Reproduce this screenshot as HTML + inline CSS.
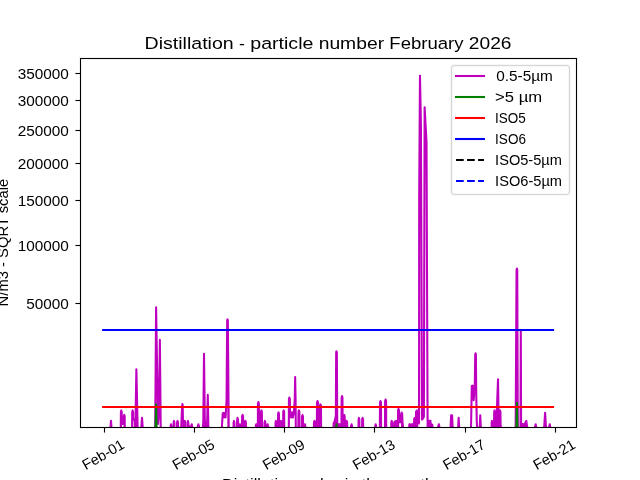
<!DOCTYPE html>
<html lang="en">
<head>
<meta charset="utf-8">
<title>Distillation - particle number February 2026</title>
<style>
  html, body { margin: 0; padding: 0; background: #ffffff; }
  body { width: 640px; height: 480px; overflow: hidden; position: relative; }
  svg { position: absolute; left: 0; top: 0; display: block; will-change: transform; }
  text { font-family: "Liberation Sans", sans-serif; fill: #000000; }
  .t10 { font-size: 14.5px; }
  .t12 { font-size: 17.4px; }
  .ln { fill: none; stroke-width: 2.083; stroke-linejoin: round; stroke-linecap: butt; }
</style>
</head>
<body>
<svg width="640" height="480" viewBox="0 0 640 480">
  <defs>
    <clipPath id="axclip"><rect x="80" y="57.6" width="496" height="369.6"/></clipPath>
  </defs>
  <rect x="0" y="0" width="640" height="480" fill="#ffffff"/>

  <!-- data series -->
  <g clip-path="url(#axclip)">
    <path fill="#bf00bf" stroke="none" d="M109.87 436.00 L109.87 436.00 L111.00 420.90 L112.13 436.00 L112.13 436.00Z M120.74 436.00 L120.74 436.00 L120.90 411.90 L121.30 410.40 L121.70 411.90 L121.85 424.00 L121.85 436.00Z M123.65 436.00 L123.65 424.00 L123.80 416.40 L124.25 414.90 L124.70 416.40 L124.85 436.00 L124.85 436.00Z M132.06 436.00 L132.06 436.00 L132.21 411.90 L132.61 410.40 L133.02 411.90 L133.17 419.50 L133.17 436.00Z M135.24 436.00 L135.24 436.00 L136.37 369.20 L137.83 436.00 L137.83 436.00Z M140.65 436.00 L140.65 436.00 L142.01 417.90 L143.32 436.00 L143.32 436.00Z M155.16 436.00 L155.16 436.00 L156.10 307.40 L156.10 436.00Z M170.53 436.00 L170.53 436.00 L170.68 425.80 L171.04 424.30 L171.40 425.80 L171.55 436.00 L171.55 436.00Z M173.49 436.00 L173.49 436.00 L173.64 422.40 L174.00 420.90 L174.36 422.40 L174.51 436.00 L174.51 436.00Z M176.88 436.00 L176.88 436.00 L177.03 422.40 L177.52 420.90 L178.02 422.40 L178.17 436.00 L178.17 436.00Z M180.81 436.00 L180.81 436.00 L182.17 405.60 L182.41 404.10 L182.69 405.60 L183.21 436.00 L183.21 436.00Z M184.39 436.00 L184.39 436.00 L184.54 422.40 L184.85 420.90 L185.16 422.40 L185.31 436.00 L185.31 436.00Z M187.45 436.00 L187.45 436.00 L187.60 422.40 L187.95 420.90 L188.31 422.40 L188.46 425.50 L189.64 427.00 L191.16 427.50 L191.31 425.80 L191.71 424.30 L192.12 425.80 L192.27 436.00 L192.27 436.00Z M197.69 436.00 L197.69 436.00 L197.84 425.80 L198.38 424.30 L198.93 425.80 L199.08 436.00 L199.08 436.00Z M202.70 436.00 L202.70 436.00 L203.36 418.00 L204.02 353.70 L204.77 418.00 L205.52 432.00 L206.65 432.00 L207.21 420.00 L207.78 394.90 L208.53 436.00 L208.53 436.00Z M227.51 436.00 L227.51 319.40 L227.85 320.60 L228.79 436.00 L228.79 436.00Z M233.49 436.00 L233.49 436.00 L233.64 422.40 L233.99 420.90 L234.35 422.40 L234.50 428.00 L235.44 436.00 L235.44 436.00Z M236.07 436.00 L236.07 436.00 L237.01 428.00 L237.16 419.40 L237.56 417.90 L237.97 419.40 L238.12 424.50 L239.06 436.00 L239.06 436.00Z M239.07 436.00 L239.07 436.00 L240.01 424.30 L240.95 436.00 L240.95 436.00Z M241.05 436.00 L241.05 436.00 L241.99 424.30 L242.14 416.40 L242.59 414.90 L243.04 416.40 L243.19 421.50 L244.81 421.50 L244.96 422.40 L245.41 420.90 L245.86 422.40 L246.01 436.00 L246.01 436.00Z M255.66 436.00 L255.66 436.00 L255.81 425.80 L256.17 424.30 L256.52 425.80 L256.67 436.00 L256.67 436.00Z M257.82 436.00 L257.82 436.00 L257.97 403.60 L258.42 402.10 L258.87 403.60 L259.02 436.00 L259.02 436.00Z M260.83 436.00 L260.83 436.00 L260.98 411.90 L261.43 410.40 L261.88 411.90 L262.03 436.00 L262.03 436.00Z M264.35 436.00 L264.35 436.00 L264.50 422.40 L264.91 420.90 L265.31 422.40 L265.46 436.00 L265.46 436.00Z M267.12 436.00 L267.12 436.00 L267.27 425.80 L267.63 424.30 L267.99 425.80 L268.14 426.00 L269.13 429.00 L270.07 436.00 L270.07 436.00Z M275.39 436.00 L275.39 436.00 L275.54 422.40 L275.90 420.90 L276.26 422.40 L276.41 436.00 L276.41 436.00Z M277.93 436.00 L277.93 436.00 L278.08 413.90 L278.53 412.40 L278.98 413.90 L279.13 436.00 L279.13 436.00Z M280.56 436.00 L280.56 436.00 L280.71 422.40 L281.07 420.90 L281.42 422.40 L281.57 436.00 L281.57 436.00Z M283.10 436.00 L283.10 436.00 L283.25 411.90 L283.70 410.40 L284.15 411.90 L284.30 436.00 L284.30 436.00Z M288.78 436.00 L288.78 436.00 L288.93 399.10 L289.38 397.60 L289.38 436.00Z M295.16 436.00 L295.16 377.00 L295.58 400.00 L295.86 436.00 L295.86 436.00Z M298.32 436.00 L298.32 436.00 L298.47 411.90 L298.92 410.40 L299.37 411.90 L299.52 436.00 L299.52 436.00Z M301.89 436.00 L301.89 436.00 L302.04 416.60 L302.49 415.10 L302.94 416.60 L303.09 425.50 L304.42 425.50 L304.57 425.80 L304.93 424.30 L305.29 425.80 L305.44 436.00 L305.44 436.00Z M313.82 436.00 L313.82 436.00 L313.97 422.40 L314.51 420.90 L315.06 422.40 L315.21 422.00 L316.87 422.00 L317.02 402.50 L317.52 401.00 L318.02 402.50 L318.17 406.00 L319.93 406.00 L320.08 405.90 L320.53 404.40 L320.98 405.90 L321.13 436.00 L321.13 436.00Z M332.37 436.00 L332.37 436.00 L333.31 432.00 L333.68 423.00 L334.62 421.50 L335.84 416.00 L336.16 352.40 L336.50 351.20 L336.84 352.40 L337.25 424.50 L338.57 424.40 L339.88 424.30 L341.11 424.30 L341.49 424.30 L341.64 397.60 L342.04 396.10 L342.45 397.60 L342.60 416.50 L343.79 416.50 L343.94 416.60 L344.30 415.10 L344.66 416.60 L344.81 422.00 L346.05 422.00 L346.20 422.40 L346.65 420.90 L347.10 422.40 L347.25 436.00 L347.25 436.00Z M350.93 436.00 L350.93 436.00 L351.08 425.80 L351.53 424.30 L351.99 425.80 L352.14 436.00 L352.14 436.00Z M358.45 436.00 L358.45 436.00 L358.60 419.40 L358.96 417.90 L359.31 419.40 L359.46 436.00 L359.46 436.00Z M362.02 436.00 L362.02 436.00 L362.17 419.40 L362.62 417.90 L363.07 419.40 L363.22 436.00 L363.22 436.00Z M375.17 436.00 L375.17 436.00 L375.32 425.80 L375.68 424.30 L376.04 425.80 L376.19 436.00 L376.19 436.00Z M379.83 436.00 L379.83 436.00 L379.98 402.50 L380.47 401.00 L380.97 402.50 L381.12 436.00 L381.12 436.00Z M384.95 436.00 L384.95 436.00 L385.10 401.00 L385.59 399.50 L386.09 401.00 L386.24 436.00 L386.24 436.00Z M391.15 436.00 L391.15 436.00 L391.30 422.40 L391.70 420.90 L392.11 422.40 L392.26 436.00 L392.26 436.00Z M394.10 436.00 L394.10 436.00 L394.29 422.50 L395.32 421.20 L396.63 420.90 L397.95 420.90 L398.09 410.40 L398.56 408.90 L399.03 410.40 L399.17 420.00 L399.17 436.00Z M401.05 436.00 L401.05 421.00 L401.24 414.00 L401.71 412.60 L402.18 414.00 L402.41 421.00 L403.96 436.00 L403.96 436.00Z M409.13 436.00 L409.13 436.00 L409.32 424.30 L410.73 424.50 L412.14 424.20 L413.55 424.40 L414.06 424.30 L414.20 418.50 L415.05 417.90 L415.90 418.50 L416.08 411.50 L417.12 410.40 L418.25 411.00 L418.25 436.00Z M428.77 436.00 L428.77 422.00 L428.96 420.90 L430.46 420.90 L430.65 424.30 L431.59 424.40 L432.34 424.80 L432.81 436.00 L432.81 436.00Z M437.04 436.00 L437.04 436.00 L437.98 427.00 L438.92 424.20 L439.86 430.00 L440.80 436.00 L440.80 436.00Z M450.19 436.00 L450.19 436.00 L451.13 415.30 L452.07 415.20 L453.01 436.00 L453.01 436.00Z M457.71 436.00 L457.71 436.00 L458.65 417.90 L459.59 436.00 L459.59 436.00Z M479.32 436.00 L479.32 436.00 L480.26 415.20 L481.20 436.00 L481.20 436.00Z M491.54 436.00 L491.54 436.00 L491.69 422.40 L492.00 420.90 L492.31 422.40 L492.46 436.00 L492.46 436.00Z M494.03 436.00 L494.03 436.00 L494.18 411.90 L494.54 410.40 L494.90 411.90 L495.05 436.00 L495.05 436.00Z M496.56 436.00 L496.56 436.00 L496.79 412.00 L498.02 379.30 L498.49 412.00 L498.67 436.00 L498.67 436.00Z M499.58 436.00 L499.58 436.00 L499.73 411.90 L500.08 410.40 L500.44 411.90 L500.59 424.00 L501.59 436.00 L501.59 436.00Z M515.62 436.00 L515.62 436.00 L516.56 269.70 L516.90 268.50 L516.90 436.00Z M521.97 436.00 L521.97 428.00 L522.54 424.00 L523.48 425.00 L524.42 424.00 L525.36 423.00 L526.30 420.90 L527.24 428.00 L528.18 436.00 L528.18 436.00Z M533.81 436.00 L533.81 436.00 L534.75 428.00 L535.69 424.20 L536.63 430.00 L537.57 436.00 L537.57 436.00Z M543.21 436.00 L543.21 436.00 L544.15 428.00 L545.09 412.70 L546.03 428.00 L546.97 436.00 L546.97 436.00Z M547.91 436.00 L547.91 436.00 L548.85 428.00 L549.79 424.20 L550.73 430.00 L551.67 436.00 L551.67 436.00Z"/>
    <path class="ln" stroke="#bf00bf" d="M102.55 436.00 L108.93 436.00 L109.87 436.00 L111.00 420.90 L112.13 436.00 L113.07 436.00 L119.81 436.00 L120.74 436.00 L120.90 411.90 L121.30 410.40 L121.70 411.90 L121.85 424.00 L123.65 424.00 L123.80 416.40 L124.25 414.90 L124.70 416.40 L124.85 436.00 L125.79 436.00 L131.12 436.00 L132.06 436.00 L132.21 411.90 L132.61 410.40 L133.02 411.90 L133.17 419.50 L134.02 419.80 L134.77 419.30 L135.24 436.00 L136.37 369.20 L137.83 436.00 L138.77 436.00 L139.71 436.00 L140.65 436.00 L142.01 417.90 L143.32 436.00 L144.26 436.00 L155.16 436.00 L156.10 307.40 L157.98 424.00 L158.92 414.00 L159.86 339.90 L160.80 436.00 L169.59 436.00 L170.53 436.00 L170.68 425.80 L171.04 424.30 L171.40 425.80 L171.55 436.00 L172.49 436.00 L172.55 436.00 L173.49 436.00 L173.64 422.40 L174.00 420.90 L174.36 422.40 L174.51 436.00 L175.45 436.00 L175.94 436.00 L176.88 436.00 L177.03 422.40 L177.52 420.90 L178.02 422.40 L178.17 436.00 L179.11 436.00 L179.87 436.00 L180.81 436.00 L182.17 405.60 L182.41 404.10 L182.69 405.60 L183.21 436.00 L184.39 436.00 L184.54 422.40 L184.85 420.90 L185.16 422.40 L185.31 436.00 L186.25 436.00 L186.51 436.00 L187.45 436.00 L187.60 422.40 L187.95 420.90 L188.31 422.40 L188.46 425.50 L189.64 427.00 L191.16 427.50 L191.31 425.80 L191.71 424.30 L192.12 425.80 L192.27 436.00 L193.21 436.00 L196.75 436.00 L197.69 436.00 L197.84 425.80 L198.38 424.30 L198.93 425.80 L199.08 436.00 L200.02 436.00 L201.76 436.00 L202.70 436.00 L203.36 418.00 L204.02 353.70 L204.77 418.00 L205.52 432.00 L206.65 432.00 L207.21 420.00 L207.78 394.90 L208.53 436.00 L209.47 436.00 L220.37 436.00 L221.31 436.00 L222.72 413.50 L223.19 412.80 L223.66 417.30 L224.13 413.00 L224.60 417.30 L225.07 413.00 L225.54 417.50 L225.91 412.00 L226.57 400.00 L227.17 320.60 L227.51 319.40 L227.85 320.60 L228.79 436.00 L232.55 436.00 L233.49 436.00 L233.64 422.40 L233.99 420.90 L234.35 422.40 L234.50 428.00 L235.44 436.00 L236.07 436.00 L237.01 428.00 L237.16 419.40 L237.56 417.90 L237.97 419.40 L238.12 424.50 L239.06 436.00 L239.07 436.00 L240.01 424.30 L240.95 436.00 L241.05 436.00 L241.99 424.30 L242.14 416.40 L242.59 414.90 L243.04 416.40 L243.19 421.50 L244.81 421.50 L244.96 422.40 L245.41 420.90 L245.86 422.40 L246.01 436.00 L246.95 436.00 L254.72 436.00 L255.66 436.00 L255.81 425.80 L256.17 424.30 L256.52 425.80 L256.67 436.00 L257.82 436.00 L257.97 403.60 L258.42 402.10 L258.87 403.60 L259.02 436.00 L260.83 436.00 L260.98 411.90 L261.43 410.40 L261.88 411.90 L262.03 436.00 L262.97 436.00 L263.41 436.00 L264.35 436.00 L264.50 422.40 L264.91 420.90 L265.31 422.40 L265.46 436.00 L267.12 436.00 L267.27 425.80 L267.63 424.30 L267.99 425.80 L268.14 426.00 L269.13 429.00 L270.07 436.00 L274.45 436.00 L275.39 436.00 L275.54 422.40 L275.90 420.90 L276.26 422.40 L276.41 436.00 L277.93 436.00 L278.08 413.90 L278.53 412.40 L278.98 413.90 L279.13 436.00 L280.56 436.00 L280.71 422.40 L281.07 420.90 L281.42 422.40 L281.57 436.00 L283.10 436.00 L283.25 411.90 L283.70 410.40 L284.15 411.90 L284.30 436.00 L285.24 436.00 L287.84 436.00 L288.78 436.00 L288.93 399.10 L289.38 397.60 L289.83 399.10 L289.98 413.00 L291.03 417.50 L291.96 412.30 L292.90 417.50 L293.84 412.50 L294.74 400.00 L295.16 377.00 L295.58 400.00 L295.86 436.00 L296.80 436.00 L297.38 436.00 L298.32 436.00 L298.47 411.90 L298.92 410.40 L299.37 411.90 L299.52 436.00 L300.46 436.00 L300.95 436.00 L301.89 436.00 L302.04 416.60 L302.49 415.10 L302.94 416.60 L303.09 425.50 L304.42 425.50 L304.57 425.80 L304.93 424.30 L305.29 425.80 L305.44 436.00 L306.38 436.00 L312.88 436.00 L313.82 436.00 L313.97 422.40 L314.51 420.90 L315.06 422.40 L315.21 422.00 L316.87 422.00 L317.02 402.50 L317.52 401.00 L318.02 402.50 L318.17 406.00 L319.93 406.00 L320.08 405.90 L320.53 404.40 L320.98 405.90 L321.13 436.00 L322.07 436.00 L332.37 436.00 L333.31 432.00 L333.68 423.00 L334.62 421.50 L335.84 416.00 L336.16 352.40 L336.50 351.20 L336.84 352.40 L337.25 424.50 L338.57 424.40 L339.88 424.30 L341.11 424.30 L341.49 424.30 L341.64 397.60 L342.04 396.10 L342.45 397.60 L342.60 416.50 L343.79 416.50 L343.94 416.60 L344.30 415.10 L344.66 416.60 L344.81 422.00 L346.05 422.00 L346.20 422.40 L346.65 420.90 L347.10 422.40 L347.25 436.00 L348.19 436.00 L349.99 436.00 L350.93 436.00 L351.08 425.80 L351.53 424.30 L351.99 425.80 L352.14 436.00 L353.08 436.00 L357.51 436.00 L358.45 436.00 L358.60 419.40 L358.96 417.90 L359.31 419.40 L359.46 436.00 L360.40 436.00 L360.55 436.00 L361.49 436.00 L362.02 436.00 L362.17 419.40 L362.62 417.90 L363.07 419.40 L363.22 436.00 L364.16 436.00 L374.23 436.00 L375.17 436.00 L375.32 425.80 L375.68 424.30 L376.04 425.80 L376.19 436.00 L377.13 436.00 L378.89 436.00 L379.83 436.00 L379.98 402.50 L380.47 401.00 L380.97 402.50 L381.12 436.00 L382.06 436.00 L384.01 436.00 L384.95 436.00 L385.10 401.00 L385.59 399.50 L386.09 401.00 L386.24 436.00 L387.18 436.00 L390.21 436.00 L391.15 436.00 L391.30 422.40 L391.70 420.90 L392.11 422.40 L392.26 436.00 L394.10 436.00 L394.29 422.50 L395.32 421.20 L396.63 420.90 L397.95 420.90 L398.09 410.40 L398.56 408.90 L399.03 410.40 L399.17 420.00 L400.02 422.50 L401.05 421.00 L401.24 414.00 L401.71 412.60 L402.18 414.00 L402.41 421.00 L403.96 436.00 L404.90 436.00 L408.19 436.00 L409.13 436.00 L409.32 424.30 L410.73 424.50 L412.14 424.20 L413.55 424.40 L414.06 424.30 L414.20 418.50 L415.05 417.90 L415.90 418.50 L416.08 411.50 L417.12 410.40 L418.25 411.00 L419.04 423.40 L419.18 200.00 L419.98 75.80 L420.92 125.00 L422.00 419.60 L422.94 418.50 L423.88 416.80 L424.63 107.30 L425.57 125.00 L426.51 142.00 L427.64 434.00 L428.77 422.00 L428.96 420.90 L430.46 420.90 L430.65 424.30 L431.59 424.40 L432.34 424.80 L432.81 436.00 L433.75 436.00 L437.04 436.00 L437.98 427.00 L438.92 424.20 L439.86 430.00 L440.80 436.00 L450.19 436.00 L451.13 415.30 L452.07 415.20 L453.01 436.00 L457.71 436.00 L458.65 417.90 L459.59 436.00 L470.86 436.00 L471.80 386.00 L472.74 385.60 L473.68 400.20 L474.81 386.00 L475.22 354.50 L475.56 353.30 L475.90 354.50 L476.22 392.00 L476.78 422.00 L477.72 436.00 L479.32 436.00 L480.26 415.20 L481.20 436.00 L490.60 436.00 L491.54 436.00 L491.69 422.40 L492.00 420.90 L492.31 422.40 L492.46 436.00 L494.03 436.00 L494.18 411.90 L494.54 410.40 L494.90 411.90 L495.05 436.00 L496.56 436.00 L496.79 412.00 L498.02 379.30 L498.49 412.00 L498.67 436.00 L499.58 436.00 L499.73 411.90 L500.08 410.40 L500.44 411.90 L500.59 424.00 L501.59 436.00 L502.53 436.00 L515.62 436.00 L516.56 269.70 L516.90 268.50 L517.24 269.70 L517.84 436.00 L518.78 436.00 L519.53 436.00 L520.47 436.00 L520.80 330.00 L521.13 436.00 L521.97 428.00 L522.54 424.00 L523.48 425.00 L524.42 424.00 L525.36 423.00 L526.30 420.90 L527.24 428.00 L528.18 436.00 L533.81 436.00 L534.75 428.00 L535.69 424.20 L536.63 430.00 L537.57 436.00 L543.21 436.00 L544.15 428.00 L545.09 412.70 L546.03 428.00 L546.97 436.00 L547.91 436.00 L548.85 428.00 L549.79 424.20 L550.73 430.00 L551.67 436.00 L553.54 436.00"/>
    <path class="ln" stroke="#008000" d="M102.55 446.00 L155.16 446.00 L156.10 404.30 L157.04 446.00 L335.56 446.00 L336.50 424.40 L337.44 446.00 L515.96 446.00 L516.90 402.90 L517.84 446.00 L553.54 446.00"/>
    <path class="ln" stroke="#ff0000" d="M102.1 407 L554.1 407"/>
    <path class="ln" stroke="#0000ff" d="M102.1 330 L554.1 330"/>
  </g>

  <!-- axes frame -->
  <rect x="80.5" y="58.5" width="496" height="369" fill="none" stroke="#000000" stroke-opacity="0.055" stroke-width="3" shape-rendering="crispEdges"/>
  <rect x="80.5" y="58.5" width="496" height="369" fill="none" stroke="#000000" stroke-width="1" shape-rendering="crispEdges"/>

  <!-- ticks -->
  <g fill="#000000">
    <rect x="75.5" y="73" width="4.5" height="1"/><rect x="75" y="72" width="5" height="3" fill-opacity="0.055"/>
    <rect x="75.5" y="100" width="4.5" height="1"/><rect x="75" y="99" width="5" height="3" fill-opacity="0.055"/>
    <rect x="75.5" y="130" width="4.5" height="1"/><rect x="75" y="129" width="5" height="3" fill-opacity="0.055"/>
    <rect x="75.5" y="163" width="4.5" height="1"/><rect x="75" y="162" width="5" height="3" fill-opacity="0.055"/>
    <rect x="75.5" y="200" width="4.5" height="1"/><rect x="75" y="199" width="5" height="3" fill-opacity="0.055"/>
    <rect x="75.5" y="245" width="4.5" height="1"/><rect x="75" y="244" width="5" height="3" fill-opacity="0.055"/>
    <rect x="75.5" y="303" width="4.5" height="1"/><rect x="75" y="302" width="5" height="3" fill-opacity="0.055"/>
    <rect x="104" y="428" width="1" height="4.5"/><rect x="103" y="428" width="3" height="5" fill-opacity="0.055"/>
    <rect x="194" y="428" width="1" height="4.5"/><rect x="193" y="428" width="3" height="5" fill-opacity="0.055"/>
    <rect x="284" y="428" width="1" height="4.5"/><rect x="283" y="428" width="3" height="5" fill-opacity="0.055"/>
    <rect x="374" y="428" width="1" height="4.5"/><rect x="373" y="428" width="3" height="5" fill-opacity="0.055"/>
    <rect x="465" y="428" width="1" height="4.5"/><rect x="464" y="428" width="3" height="5" fill-opacity="0.055"/>
    <rect x="555" y="428" width="1" height="4.5"/><rect x="554" y="428" width="3" height="5" fill-opacity="0.055"/>
  </g>

  <!-- y tick labels -->
  <g class="t10" text-anchor="end">
    <text x="68.9" y="79" textLength="51.2" lengthAdjust="spacingAndGlyphs">350000</text>
    <text x="68.9" y="106" textLength="51.2" lengthAdjust="spacingAndGlyphs">300000</text>
    <text x="68.9" y="136" textLength="51.2" lengthAdjust="spacingAndGlyphs">250000</text>
    <text x="68.9" y="169" textLength="51.2" lengthAdjust="spacingAndGlyphs">200000</text>
    <text x="68.9" y="206" textLength="51.2" lengthAdjust="spacingAndGlyphs">150000</text>
    <text x="68.9" y="251" textLength="51.2" lengthAdjust="spacingAndGlyphs">100000</text>
    <text x="68.9" y="309" textLength="42.6" lengthAdjust="spacingAndGlyphs">50000</text>
  </g>

  <!-- x tick labels (rotated 30deg) -->
  <g class="t10" text-anchor="middle">
    <text transform="translate(103.6 455.3) rotate(-30)" y="4.1" textLength="46" lengthAdjust="spacingAndGlyphs">Feb-01</text>
    <text transform="translate(193.8 455.3) rotate(-30)" y="4.1" textLength="46" lengthAdjust="spacingAndGlyphs">Feb-05</text>
    <text transform="translate(284.0 455.3) rotate(-30)" y="4.1" textLength="46" lengthAdjust="spacingAndGlyphs">Feb-09</text>
    <text transform="translate(374.2 455.3) rotate(-30)" y="4.1" textLength="46" lengthAdjust="spacingAndGlyphs">Feb-13</text>
    <text transform="translate(464.4 455.3) rotate(-30)" y="4.1" textLength="46" lengthAdjust="spacingAndGlyphs">Feb-17</text>
    <text transform="translate(554.6 455.3) rotate(-30)" y="4.1" textLength="46" lengthAdjust="spacingAndGlyphs">Feb-21</text>
  </g>

  <!-- title / axis labels -->
  <text class="t12" y="48.6"><tspan x="144.54" textLength="89.21" lengthAdjust="spacingAndGlyphs">Distillation</tspan> <tspan x="239.04" textLength="5.93" lengthAdjust="spacingAndGlyphs">-</tspan> <tspan x="250.26" textLength="63.12" lengthAdjust="spacingAndGlyphs">particle</tspan> <tspan x="318.68" textLength="65.40" lengthAdjust="spacingAndGlyphs">number</tspan> <tspan x="389.37" textLength="74.21" lengthAdjust="spacingAndGlyphs">February</tspan> <tspan x="468.87" textLength="42.59" lengthAdjust="spacingAndGlyphs">2026</tspan></text>
  <text class="t10" transform="translate(8.3 242.6) rotate(-90)" text-anchor="middle" textLength="127.6" lengthAdjust="spacingAndGlyphs">N/m3 - SQRT scale</text>
  <text class="t10" y="488.6"><tspan x="222.06" textLength="74.12" lengthAdjust="spacingAndGlyphs">Distillation</tspan> <tspan x="300.56" textLength="9.75" lengthAdjust="spacingAndGlyphs">--</tspan> <tspan x="314.69" textLength="25.75" lengthAdjust="spacingAndGlyphs">day</tspan> <tspan x="344.81" textLength="12.62" lengthAdjust="spacingAndGlyphs">in</tspan> <tspan x="361.81" textLength="22.75" lengthAdjust="spacingAndGlyphs">the</tspan> <tspan x="388.94" textLength="45.00" lengthAdjust="spacingAndGlyphs">month</tspan></text>

  <!-- legend -->
  <rect x="451.5" y="65.5" width="118" height="129" rx="2.6" ry="2.6" fill="#ffffff" fill-opacity="0.8" stroke="#000000" stroke-opacity="0.032" stroke-width="3"/>
  <rect x="451.5" y="65.5" width="118" height="129" rx="2.6" ry="2.6" fill="none" stroke="#d6d6d6" stroke-width="1"/>
  <g class="ln">
    <path stroke="#bf00bf" d="M455 76H485"/>
    <path stroke="#008000" d="M455 97H485"/>
    <path stroke="#ff0000" d="M455 118H485"/>
    <path stroke="#0000ff" d="M455 139H485"/>
    <path stroke="#000000" stroke-dasharray="7.71 3.33" d="M456 160H484"/>
    <path stroke="#0000ff" stroke-dasharray="7.71 3.33" d="M456 181H484"/>
  </g>
  <g class="t10">
    <text x="496.2" y="81.2" textLength="56.6" lengthAdjust="spacingAndGlyphs">0.5-5µm</text>
    <text x="495.1" y="102.1" textLength="47" lengthAdjust="spacingAndGlyphs">&gt;5 µm</text>
    <text x="495.1" y="123.1" textLength="30.8" lengthAdjust="spacingAndGlyphs">ISO5</text>
    <text x="495.1" y="144" textLength="30.9" lengthAdjust="spacingAndGlyphs">ISO6</text>
    <text x="495.1" y="165" textLength="66.8" lengthAdjust="spacingAndGlyphs">ISO5-5µm</text>
    <text x="495.1" y="185.9" textLength="66.9" lengthAdjust="spacingAndGlyphs">ISO6-5µm</text>
  </g>
</svg>
</body>
</html>
